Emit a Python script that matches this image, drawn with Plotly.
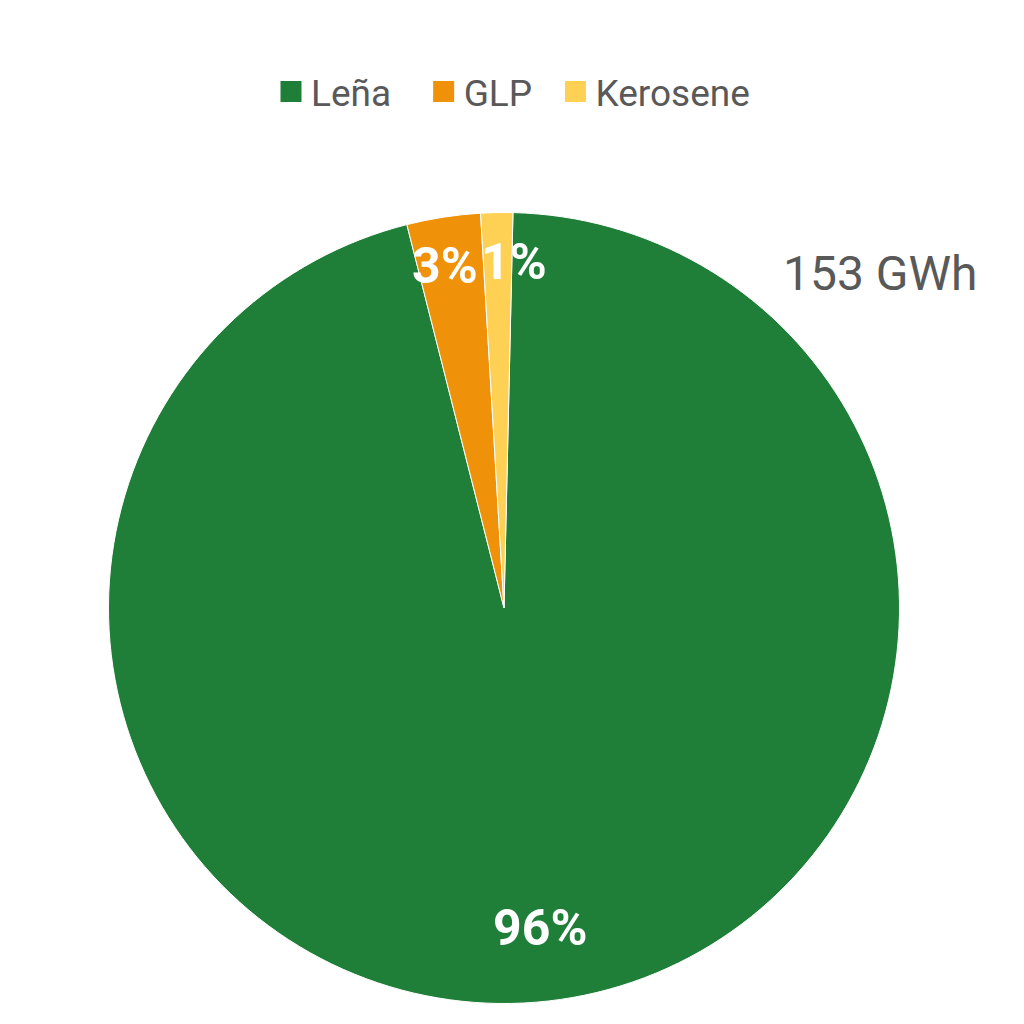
import plotly.graph_objects as go

labels = ["Leña", "GLP", "Kerosene"]
values = [146.5, 4.6, 2.0]  # GWh
colors = ["#1f7e38", "#f0910a", "#fed054"]
total_label = "153 GWh"

W = H = 1024
cx, cy, r = 496, 600, 395.5
NB = "\u00a0"
ROT = 1.3


def domain(rad):
    return dict(x=[(cx - rad) / W, (cx + rad) / W], y=[(H - cy - rad) / H, (H - cy + rad) / H])


common = dict(labels=labels, values=values, sort=False, direction="clockwise")
pct = "%{percent:.0%}"
label_font = dict(family="Roboto", size=50, color="white", weight="bold")
clear = dict(colors=["rgba(0,0,0,0)"] * len(labels), line=dict(width=0))

fig = go.Figure()

# base pie (colours, no text)
fig.add_trace(go.Pie(
    **common, rotation=ROT,
    marker=dict(colors=colors, line=dict(color="white", width=1)),
    textinfo="none", domain=domain(r), showlegend=False,
    hoverinfo="label+value+percent",
))

# transparent ring carrying the large-slice label
fig.add_trace(go.Pie(
    **common, rotation=ROT, hole=0.63, marker=clear,
    texttemplate=[pct, "", ""], textposition="inside",
    insidetextorientation="horizontal", textfont=label_font,
    domain=domain(r), showlegend=False, hoverinfo="skip",
))

# transparent ring carrying the GLP label near the rim (nudged slightly anticlockwise)
fig.add_trace(go.Pie(
    **common, rotation=ROT - 1.0, hole=0.75, marker=clear,
    texttemplate=["", pct, ""], textposition="inside",
    insidetextorientation="horizontal", textfont=label_font,
    domain=domain(r * 0.96), showlegend=False, hoverinfo="skip",
))

# transparent ring carrying the Kerosene label (nudged clockwise to clear the GLP label)
fig.add_trace(go.Pie(
    **common, rotation=ROT + 2.7, hole=0.75, marker=clear,
    texttemplate=["", "", pct], textposition="inside",
    insidetextorientation="horizontal", textfont=label_font,
    domain=domain(r * 0.91), showlegend=False, hoverinfo="skip",
))

# legend entries with large square swatches
pads = [3, 2, 0]
for lab, col, p in zip(labels, colors, pads):
    fig.add_trace(go.Scatter(
        x=[None], y=[None], mode="markers", name=lab + NB * p,
        marker=dict(symbol="square", size=16, color=col, line=dict(color=col, width=5)),
        showlegend=True, hoverinfo="skip",
    ))

fig.update_layout(
    width=W, height=H,
    margin=dict(l=0, r=0, t=0, b=0),
    paper_bgcolor="white", plot_bgcolor="white",
    font=dict(family="Roboto", color="#595959"),
    uniformtext=dict(minsize=50, mode="show"),
    xaxis=dict(visible=False), yaxis=dict(visible=False),
    legend=dict(
        orientation="h",
        x=263 / W, xanchor="left",
        y=1 - 84 / H, yanchor="middle",
        font=dict(size=37, color="#595959"),
        itemsizing="trace",
    ),
    annotations=[dict(
        text=total_label, x=872 / W, y=1 - 265 / H, xref="paper", yref="paper",
        showarrow=False, font=dict(size=48, color="#595959"),
        xanchor="center", yanchor="middle",
    )],
)

fig.write_html("out.html")
